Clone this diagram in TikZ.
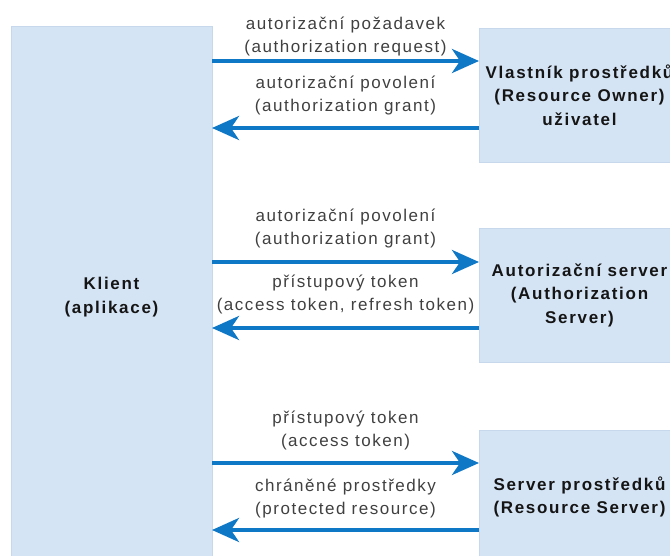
\documentclass[tikz,border=0pt]{standalone}
\usepackage{fontspec}
\setmainfont{Liberation Sans}[LetterSpace=9, BoldFeatures={LetterSpace=10}]
\usetikzlibrary{arrows.meta}
\definecolor{boxfill}{HTML}{D5E4F5}
\definecolor{boxline}{HTML}{C8D8EC}
\definecolor{flowblue}{HTML}{0F78C6}
\definecolor{labelgray}{HTML}{404040}
\definecolor{titleblack}{HTML}{151515}
\tikzset{
  party/.style={rectangle, fill=boxfill, draw=boxline, line width=0.6pt,
    outer sep=0pt, inner sep=0pt, align=center, text=titleblack,
    font=\fontsize{17}{23.5}\selectfont\bfseries},
  flow/.style={draw=flowblue, line width=4pt,
    -{Stealth[length=27pt, width=24pt, inset=8pt]}},
  msg/.style={align=center, text=labelgray, inner sep=0pt,
    font=\fontsize{17}{23}\selectfont}
}
\begin{document}
\begin{tikzpicture}[x=1pt, y=-1pt]
  \useasboundingbox (0,0) rectangle (670,556);
  % the parties
  \node[party, minimum width=201pt, minimum height=542pt] (client) at (111.5,297) {Klient\\(aplikace)};
  \node[party, minimum width=201pt, minimum height=134pt] (owner) at (579.5,95) {Vlastník prostředků\\(Resource Owner)\\uživatel};
  \node[party, minimum width=201pt, minimum height=134pt] (auth) at (579.5,295) {Autorizační server\\(Authorization\\Server)};
  \node[party, minimum width=201pt, minimum height=134pt] (res) at (579.5,497) {Server prostředků\\(Resource Server)};
  % arrow end points on the servers' sides
  \coordinate (o1) at ([yshift=34pt]owner.west);
  \coordinate (o2) at ([yshift=-33pt]owner.west);
  \coordinate (a1) at ([yshift=33pt]auth.west);
  \coordinate (a2) at ([yshift=-33pt]auth.west);
  \coordinate (r1) at ([yshift=34pt]res.west);
  \coordinate (r2) at ([yshift=-33pt]res.west);
  % message flows
  \draw[flow] (o1 -| client.east) -- (o1);
  \draw[flow] (o2) -- (o2 -| client.east);
  \draw[flow] (a1 -| client.east) -- (a1);
  \draw[flow] (a2) -- (a2 -| client.east);
  \draw[flow] (r1 -| client.east) -- (r1);
  \draw[flow] (r2) -- (r2 -| client.east);
  % message labels
  \node[msg] (m1) at (345.5,37) {autorizační požadavek\\(authorization request)};
  \node[msg] (m2) at (345.5,96) {autorizační povolení\\(authorization grant)};
  \node[msg] (m3) at (345.5,229) {autorizační povolení\\(authorization grant)};
  \node[msg] (m4) at (345.5,295) {přístupový token\\(access token, refresh token)};
  \node[msg] (m5) at (345.5,430.5) {přístupový token\\(access token)};
  \node[msg] (m6) at (345.5,498.5) {chráněné prostředky\\(protected resource)};
\end{tikzpicture}
\end{document}
